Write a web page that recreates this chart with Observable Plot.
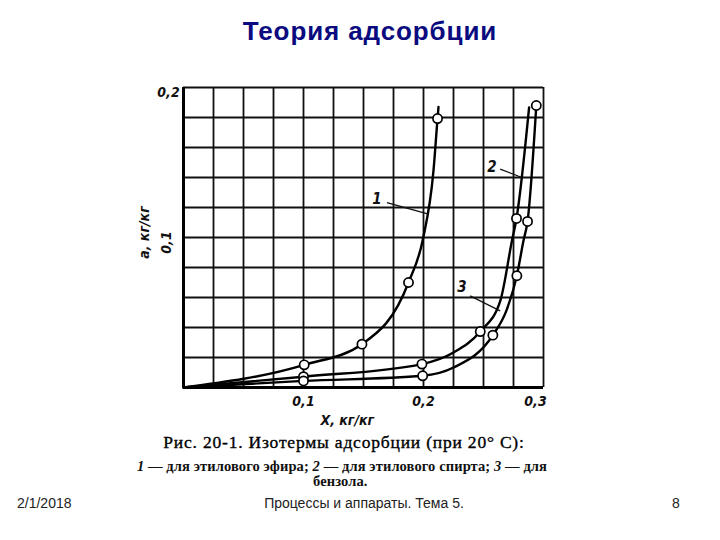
<!DOCTYPE html>
<html><head><meta charset="utf-8">
<script src="https://cdn.jsdelivr.net/npm/d3@7"></script>
<script src="https://cdn.jsdelivr.net/npm/@observablehq/plot@0.6"></script>
<style>
html,body{margin:0;padding:0;background:#fff;}
#page{position:relative;width:720px;height:540px;overflow:hidden;}
#page svg{position:absolute;left:0;top:0;}
.t{position:absolute;white-space:nowrap;}
#title{left:0;width:740px;top:16px;text-align:center;font:bold 26px "Liberation Sans",Arial,sans-serif;color:#0b0b80;letter-spacing:0.9px;}
#cap1{left:0;width:688px;top:432px;text-align:center;font:17.5px "Liberation Serif","DejaVu Serif",serif;color:#000;letter-spacing:0.8px;-webkit-text-stroke:0.35px #000;}
#cap2{left:0;width:684px;top:458px;text-align:center;font:bold 14.5px "Liberation Serif","DejaVu Serif",serif;color:#111;letter-spacing:0.1px;}
#cap3{left:313px;top:473px;font:bold 14.5px "Liberation Serif","DejaVu Serif",serif;color:#111;letter-spacing:0.1px;}
.foot{top:495px;font:14px "Liberation Sans",Arial,sans-serif;color:#222;}
</style></head>
<body><div id="page">
<div id="title" class="t">Теория адсорбции</div>
<div id="cap1" class="t">Рис. 20-1. Изотермы адсорбции (при 20° С):</div>
<div id="cap2" class="t"><i>1</i> — для этилового эфира; <i>2</i> — для этилового спирта; <i>3</i> — для</div>
<div id="cap3" class="t">бензола.</div>
<div class="t foot" style="left:17px">2/1/2018</div>
<div class="t foot" style="left:0;width:728px;text-align:center">Процессы и аппараты. Тема 5.</div>
<div class="t foot" style="left:672px">8</div>
</div>
<script>
// Curve 1 — ethyl ether
const c1x = [0, 0.1006, 0.1487, 0.1875, 0.1995, 0.2083, 0.2117, 0.2125];
const c1y = [0, 0.0151, 0.0289, 0.070, 0.0989, 0.1444, 0.1793, 0.187];
const c1m = [0, 1, 1, 1, 0, 0, 1, 0];
// Curve 2 — ethyl alcohol
const c2x = [0, 0.1, 0.1987, 0.225, 0.2473, 0.264, 0.2737, 0.2775, 0.288];
const c2y = [0, 0.0072, 0.0156, 0.0233, 0.0373, 0.0578, 0.0978, 0.1127, 0.1867];
const c2m = [0, 1, 1, 0, 1, 0, 0, 1, 0];
// Curve 3 — benzene
const c3x = [0, 0.1, 0.1993, 0.225, 0.2578, 0.269, 0.2778, 0.2833, 0.2867, 0.294];
const c3y = [0, 0.0044, 0.0078, 0.0133, 0.0349, 0.0511, 0.0745, 0.0978, 0.1107, 0.188];
const c3m = [0, 1, 1, 0, 1, 0, 1, 0, 1, 1];

const xGrid = d3.range(0, 13).map(i => i * 0.025);
const yGrid = d3.range(0, 11).map(i => i * 0.02);
const xTicks = [0.1, 0.2];
const xTickEnd = [0.3];
const xTickLabels = ["0,1", "0,2", "0,3"];
const yTickTop = [0.2];
const yTickMid = [0.1];
const yTickLabels = {0.1: "0,1", 0.2: "0,2"};
const curveLabels = ["1", "2", "3"];
const labelX = [0.1612, 0.257, 0.232];
const labelY = [0.1256, 0.1471, 0.0667];
const leadX1 = [0.1695, 0.2639, 0.2389];
const leadY1 = [0.1233, 0.1456, 0.0611];
const leadX2 = [0.2042, 0.282, 0.2639];
const leadY2 = [0.1156, 0.14, 0.0511];
const xLabel = "X, кг/кг";
const yLabel = "a, кг/кг";

const mk = (xs, ys, ms, id) => xs.map((x, i) => ({x, y: ys[i], m: ms[i], id}));
const curves = [mk(c1x, c1y, c1m, 1), mk(c2x, c2y, c2m, 2), mk(c3x, c3y, c3m, 3)];
const all = curves.flat();
const labels = curveLabels.map((t, i) => ({t, x: labelX[i], y: labelY[i], x1: leadX1[i], y1: leadY1[i], x2: leadX2[i], y2: leadY2[i]}));

const tickFont = {fontFamily: "'DejaVu Sans Condensed','DejaVu Sans',sans-serif", fontStyle: "italic", fontWeight: "bold", fontSize: 14, fill: "#111"};

const chart = Plot.plot({
  width: 720, height: 430,
  marginLeft: 183, marginRight: 177, marginTop: 87, marginBottom: 43,
  x: {domain: [0, 0.3], axis: null},
  y: {domain: [0, 0.2], axis: null},
  style: {background: "transparent", overflow: "visible"},
  marks: [
    Plot.ruleX(xGrid, {stroke: "#111", strokeWidth: 1.8}),
    Plot.ruleY(yGrid, {stroke: "#111", strokeWidth: 1.8}),
    Plot.ruleX([0], {stroke: "#000", strokeWidth: 3}),
    Plot.ruleY([0], {stroke: "#000", strokeWidth: 3}),
    ...curves.map(c => Plot.line(c, {x: "x", y: "y", curve: "monotone-x", stroke: "#000", strokeWidth: 2.4})),
    Plot.dot(all.filter(d => d.m), {x: "x", y: "y", r: 4.6, fill: "#fff", stroke: "#000", strokeWidth: 1.7}),
    Plot.link(labels, {x1: "x1", y1: "y1", x2: "x2", y2: "y2", stroke: "#111", strokeWidth: 1.3}),
    Plot.text(labels, {x: "x", y: "y", text: "t", ...tickFont, fontSize: 15}),
    Plot.text(xTicks, {x: d => d, y: () => 0, text: (d, i) => xTickLabels[i], dy: 14, ...tickFont}),
    Plot.text(xTickEnd, {x: d => d, y: () => 0, text: () => xTickLabels[2], dy: 14, dx: -8, ...tickFont}),
    Plot.text(yTickTop, {x: () => 0, y: d => d, text: d => yTickLabels[d], dx: -15, dy: 5, ...tickFont}),
    Plot.text(yTickMid, {x: () => 0, y: d => d, text: d => yTickLabels[d], dx: -17, dy: 5, rotate: -90, ...tickFont}),
    Plot.text([xLabel], {x: () => 0.1365, y: () => 0, text: d => d, dy: 33, ...tickFont}),
    Plot.text([yLabel], {x: () => 0, y: () => 0.1033, text: d => d, dx: -39, rotate: -90, ...tickFont})
  ]
});
document.getElementById("page").appendChild(chart);
</script>
</body></html>
